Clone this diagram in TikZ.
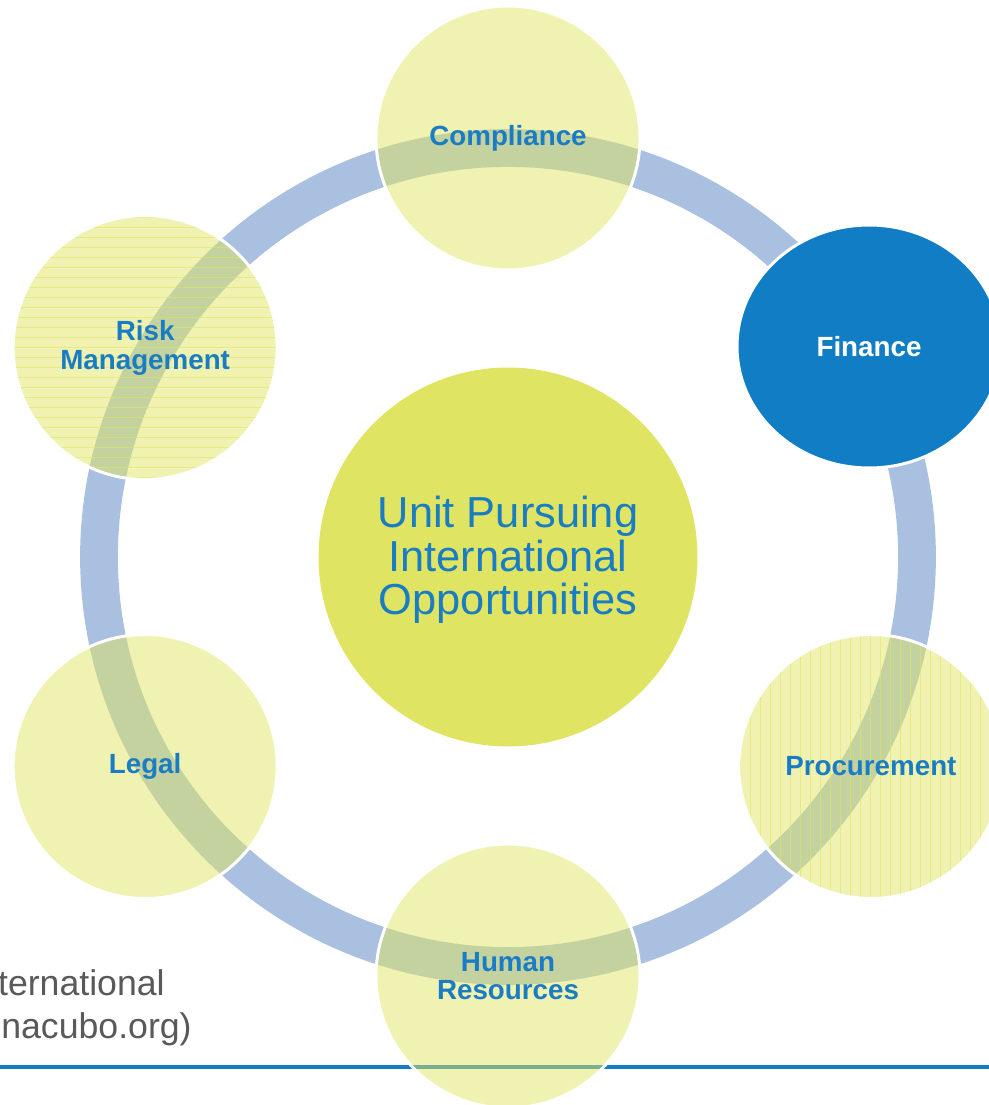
\documentclass[tikz,border=0pt]{standalone}
\usepackage{fontspec}
\setmainfont{Liberation Sans}
\usetikzlibrary{positioning,calc,shapes.geometric}
\definecolor{ringblue}{HTML}{A9C0E0}
\definecolor{hubgreen}{HTML}{DFE562}
\definecolor{textblue}{HTML}{1A7DC4}
\definecolor{darkblue}{HTML}{117DC4}
\definecolor{notegray}{HTML}{595959}

\begin{document}
\begin{tikzpicture}[x=0.02cm, y=0.02cm,
  every node/.style = {shape=circle, align=center, inner sep=0pt},
  hub/.style = {fill=hubgreen, minimum size=7.58cm, text=textblue,
    font=\fontsize{24.7}{24.7}\selectfont},
  area/.style = {draw=white, line width=1.7pt, minimum size=5.28cm,
    fill=hubgreen, fill opacity=0.5, text opacity=1, text=textblue,
    font=\fontsize{15.8}{16.4}\selectfont\bfseries},
  finance/.style = {area, shape=ellipse, minimum width=5.28cm, minimum height=4.86cm,
    fill=darkblue, fill opacity=1, text=white},
  hlines/.style = {path picture={\foreach \k in {-13,...,13}
      \draw[hubgreen, line width=0.5pt, draw opacity=0.6]
        ($(path picture bounding box.center)+(-2.8cm,\k*0.2cm)$) --
        ($(path picture bounding box.center)+(2.8cm,\k*0.2cm)$);}},
  vlines/.style = {path picture={\foreach \k in {-13,...,13}
      \draw[hubgreen, line width=0.5pt, draw opacity=0.6]
        ($(path picture bounding box.center)+(\k*0.2cm,-2.8cm)$) --
        ($(path picture bounding box.center)+(\k*0.2cm,2.8cm)$);}},
  note/.style = {shape=rectangle, text=notegray, anchor=base east,
    font=\fontsize{20.3}{20.3}\selectfont}
  ]
  \useasboundingbox (0,0) rectangle (989,-1105);

  % centre and ring
  \node[hub] (hub) at (508,-557) {\raisebox{-1.7pt}[\height][\depth]{\parbox{7cm}{\centering Unit Pursuing\\International\\Opportunities}}};
  \draw[ringblue, line width=21.5pt] (hub.center) circle (409);

  % rule at the bottom
  \coordinate (rule west) at (0,-1067);
  \coordinate (rule east) at (989,-1067);
  \draw[darkblue, line width=2.3pt] (rule west) -- (rule east);

  % the six areas round the ring
  \node[area] (compliance) at ($(hub)+(90:419)$) {Compliance};
  \node[finance] (finance) at (869,-346.5) {Finance};
  \node[area, vlines] (procurement) at ($(hub)+(-30:419)$) {Procurement};
  \node[area] (hr) at ($(hub)+(-90:419)$) {Human\\Resources};
  \node[area] (legal) at ($(hub)+(-150:419)$) {Legal};
  \node[area, hlines] (risk) at ($(hub)+(150:419)$) {Risk\\Management};

  % source note, cut at the left edge
  \node[note] (note1) at (165,-995) {ternational};
  \node[note] (note2) at (192,-1038) {nacubo.org)};
\end{tikzpicture}
\end{document}
